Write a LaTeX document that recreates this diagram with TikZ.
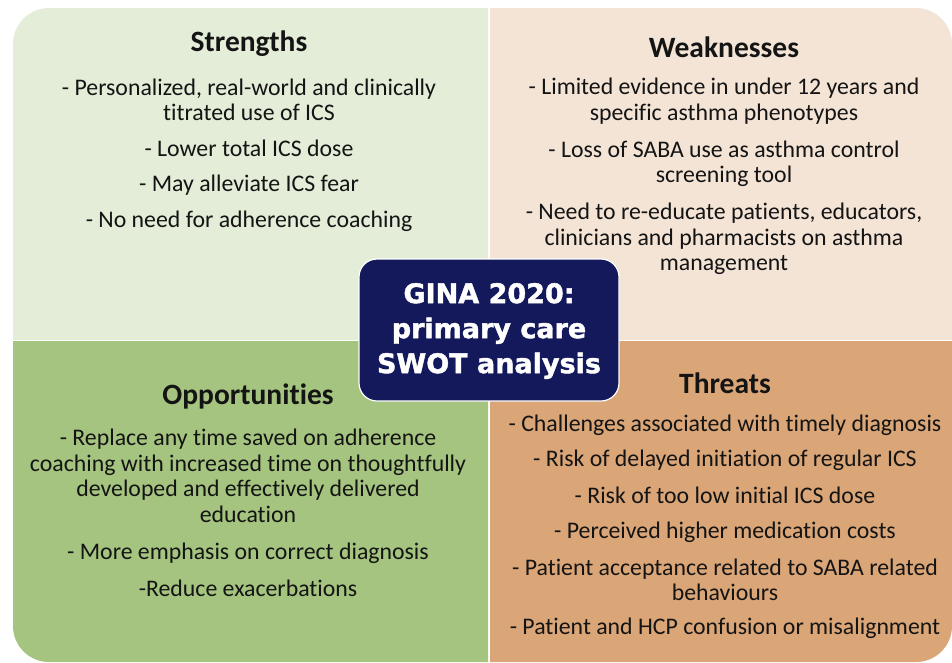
\documentclass[tikz,border=0pt]{standalone}
\usepackage{fontspec}
\setmainfont{Carlito}[Ligatures=NoCommon]
\newfontfamily\titlefont{DejaVu Sans}[BoldFeatures={FakeBold=1.6}]
\definecolor{strengthbg}{HTML}{E3EDD8}
\definecolor{weakbg}{HTML}{F3E4D5}
\definecolor{opportbg}{HTML}{A5C47F}
\definecolor{threatbg}{HTML}{DAA577}
\definecolor{navy}{HTML}{14195C}
\definecolor{ink}{HTML}{141414}
\begin{document}
\begin{tikzpicture}[x=1pt,y=-1pt,
  head/.style={font=\fontsize{29.5}{32}\selectfont\bfseries, text=ink, inner sep=0pt},
  item/.style={align=center, font=\fontsize{23.8}{25.5}\selectfont, text=ink, inner sep=0pt},
  title/.style={align=center, font=\titlefont\fontsize{27}{35}\selectfont\bfseries, text=white, inner sep=0pt}]
\useasboundingbox (0,0) rectangle (952,662);

% four quadrants, each rounded only at its outer corner
\begin{scope}
  \clip (13,8) rectangle (488,339);
  \fill[strengthbg, rounded corners=36pt] (13,8) rectangle (700,600);
\end{scope}
\begin{scope}
  \clip (490,8) rectangle (952,339);
  \fill[weakbg, rounded corners=36pt] (200,8) rectangle (952,600);
\end{scope}
\begin{scope}
  \clip (13,341) rectangle (488,662);
  \fill[opportbg, rounded corners=36pt] (13,100) rectangle (700,662);
\end{scope}
\begin{scope}
  \clip (490,341) rectangle (952,662);
  \fill[threatbg, rounded corners=36pt] (200,100) rectangle (952,662);
\end{scope}

% Strengths
\node[head] (sh) at (249,44) {Strengths};
\node[item] (s1) at (249,100) {- Personalized, real-world and clinically\\titrated use of ICS};
\node[item] (s2) at (249,148) {- Lower total ICS dose};
\node[item] (s3) at (249,185) {- May alleviate ICS fear};
\node[item] (s4) at (249,221) {- No need for adherence coaching};

% Weaknesses
\node[head] (wh) at (724,47) {Weaknesses};
\node[item] (w1) at (724,101) {- Limited evidence in under 12 years and\\specific asthma phenotypes};
\node[item] (w2) at (724,164) {- Loss of SABA use as asthma control\\screening tool};
\node[item] (w3) at (724,239) {- Need to re-educate patients, educators,\\clinicians and pharmacists on asthma\\management};

% Opportunities
\node[head] (oh) at (248,396) {Opportunities};
\node[item] (o1) at (248,476) {- Replace any time saved on adherence\\coaching with increased time on thoughtfully\\developed and effectively delivered\\education};
\node[item] (o2) at (248,553) {- More emphasis on correct diagnosis};
\node[item] (o3) at (248,588) {-Reduce exacerbations};

% Threats
\node[head] (th) at (725,383) {Threats};
\node[item] (t1) at (725,425) {- Challenges associated with timely diagnosis};
\node[item] (t2) at (725,460) {- Risk of delayed initiation of regular ICS};
\node[item] (t3) at (725,495) {- Risk of too low initial ICS dose};
\node[item] (t4) at (725,532) {- Perceived higher medication costs};
\node[item] (t5) at (725,580) {- Patient acceptance related to SABA related\\behaviours};
\node[item] (t6) at (725,628) {- Patient and HCP confusion or misalignment};

% central label
\node[fill=navy, draw=white, line width=1.2pt, rounded corners=18pt,
      minimum width=260pt, minimum height=142pt, inner sep=0pt] (box) at (489,330) {};
\node[title] (gina) at ([yshift=-1pt]box.center) {GINA 2020:\\primary care\\SWOT analysis};
\end{tikzpicture}
\end{document}
